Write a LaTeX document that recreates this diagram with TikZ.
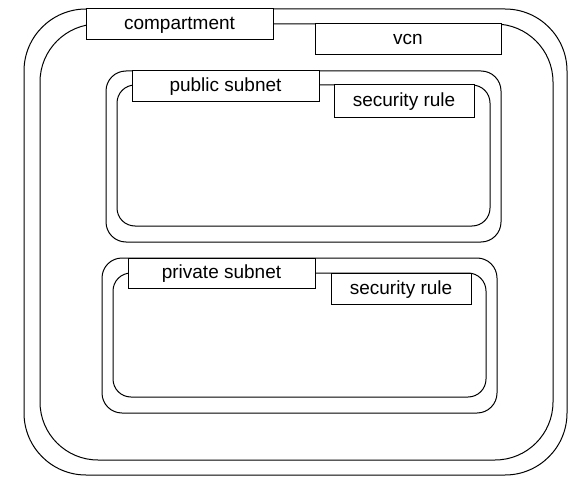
\documentclass[tikz,border=0pt]{standalone}
\usepackage{fontspec}
\setmainfont{Liberation Sans}
\begin{document}
\begin{tikzpicture}[x=1bp,y=-1bp,line width=1bp,
  tabbox/.style={draw,fill=white,rectangle,inner sep=0pt,
    font=\fontsize{19bp}{22bp}\selectfont,text height=14.5bp,text depth=3.5bp},
  bigframe/.style={draw,rounded corners=#1}]
\useasboundingbox (0,0) rectangle (586,485);
% compartment frame
\draw[bigframe=62bp] (24,9) rectangle (567,475);
\draw[bigframe=58bp] (40,24) rectangle (553,460);
\node[tabbox,minimum width=187bp,minimum height=31bp] (comp) at (179.5,24.5) {compartment};
\node[tabbox,minimum width=186bp,minimum height=31bp] (vcn) at (408,39.5) {vcn};
% public subnet
\draw[bigframe=20bp] (106,71) rectangle (501,242);
\draw[bigframe=18bp] (117,85) rectangle (490,226);
\node[tabbox,minimum width=187bp,minimum height=31bp] (pub) at (225.5,86.5) {public subnet};
\node[tabbox,minimum width=140bp,minimum height=33bp] (pubrule) at (404,101.5) {security rule};
% private subnet
\draw[bigframe=20bp] (102,258) rectangle (497,413);
\draw[bigframe=18bp] (113,273) rectangle (486,397);
\node[tabbox,minimum width=187bp,minimum height=30bp] (priv) at (221.5,273) {private subnet};
\node[tabbox,minimum width=140bp,minimum height=31bp] (privrule) at (401,288.5) {security rule};
\end{tikzpicture}
\end{document}
